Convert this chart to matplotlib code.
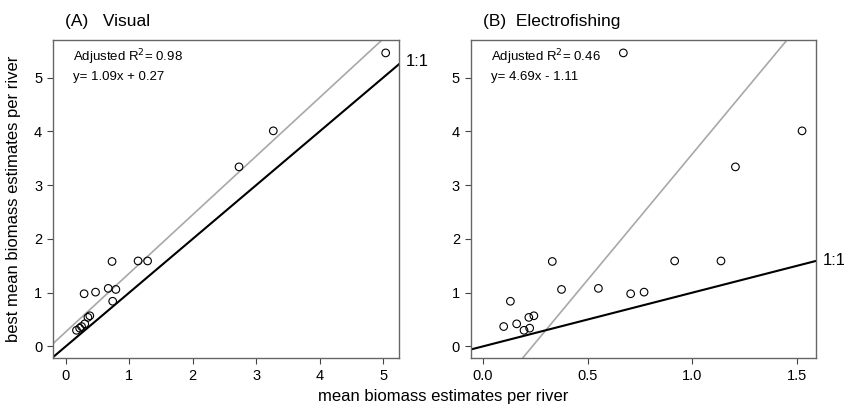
import matplotlib
matplotlib.use("Agg")
import matplotlib.pyplot as plt

plt.rcParams['font.family'] = ['Liberation Sans', 'DejaVu Sans']

# best mean biomass estimates per river (same rivers in both panels)
best_biomass = [5.46, 4.01, 3.34, 1.58, 1.59, 1.59, 1.06, 1.08, 0.98, 1.01,
                0.84, 0.37, 0.42, 0.30, 0.34, 0.54, 0.57]
# mean biomass estimates, visual survey
visual_mean = [5.04, 3.27, 2.73, 0.73, 1.14, 1.29, 0.79, 0.67, 0.29, 0.47,
               0.74, 0.25, 0.30, 0.17, 0.22, 0.35, 0.38]
# mean biomass estimates, electrofishing
efish_mean = [0.671, 1.524, 1.206, 0.332, 0.916, 1.137, 0.376, 0.552, 0.706, 0.770,
              0.132, 0.100, 0.162, 0.197, 0.224, 0.220, 0.244]

fits = [(1.09, 0.27), (4.69, -1.11)]
r2 = [0.98, 0.46]
titles = ["(A)   Visual", "(B)  Electrofishing"]
fit_labels = ["y= 1.09x + 0.27", "y= 4.69x - 1.11"]
xlims = [(-0.195, 5.25), (-0.056, 1.589)]
xticks = [[0, 1, 2, 3, 4, 5], [0.0, 0.5, 1.0, 1.5]]
xticklabels = [["0", "1", "2", "3", "4", "5"], ["0.0", "0.5", "1.0", "1.5"]]
yticks = [0, 1, 2, 3, 4, 5]
one_to_one_label_y = [5.30, 1.59]

fig = plt.figure(figsize=(8.45, 4.07), dpi=100)
ax_a = fig.add_axes([0.0631, 0.1211, 0.4091, 0.7806])
ax_b = fig.add_axes([0.5574, 0.1211, 0.4079, 0.7806])

for i, (ax, xs) in enumerate([(ax_a, visual_mean), (ax_b, efish_mean)]):
    ax.set_xlim(*xlims[i])
    ax.set_ylim(-0.21, 5.70)
    ax.scatter(xs, best_biomass, s=30, facecolors='none', edgecolors='black',
               linewidths=0.8, zorder=3)
    slope, icpt = fits[i]
    # regression line (grey) and 1:1 line (black)
    ax.axline((0, icpt), slope=slope, color='#a8a8a8', lw=1.2, zorder=2)
    ax.axline((0, 0), slope=1, color='black', lw=1.5, zorder=2)
    for s in ax.spines.values():
        s.set_color('#666666')
        s.set_linewidth(1.0)
    ax.set_xticks(xticks[i])
    ax.set_xticklabels(xticklabels[i])
    ax.set_yticks(yticks)
    ax.tick_params(length=4, width=0.8, color='#444444', labelsize=10.5, pad=4)
    ax.text(0.058, 0.945, "Adjusted R$^2$= %.2f" % r2[i], transform=ax.transAxes,
            fontsize=9.5, ha='left', va='center')
    ax.text(0.058, 0.882, fit_labels[i], transform=ax.transAxes,
            fontsize=9.5, ha='left', va='center')
    ax.set_title(titles[i], loc='left', fontsize=12.5, pad=10, x=0.035)
    ax.text(1.02, one_to_one_label_y[i], "1:1", transform=ax.get_yaxis_transform(),
            fontsize=12, va='center', ha='left', clip_on=False)

ax_a.set_ylabel("best mean biomass estimates per river", fontsize=12, labelpad=9)
fig.text(0.525, 0.025, "mean biomass estimates per river", fontsize=12,
         ha='center', va='center')

fig.savefig("out.png", dpi=100)
